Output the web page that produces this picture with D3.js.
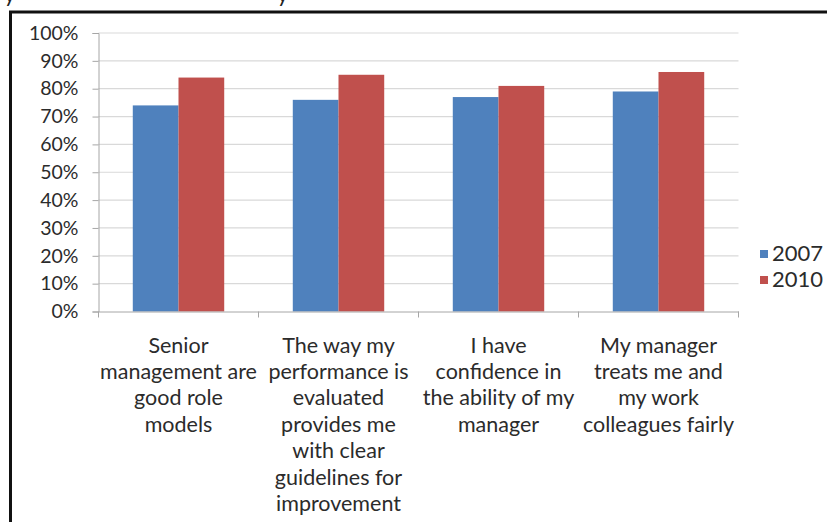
<!DOCTYPE html>
<html>
<head>
<meta charset="utf-8">
<script src="https://cdn.jsdelivr.net/npm/d3@7"></script>
<style>
  html, body { margin: 0; padding: 0; background: #fff; }
  svg { display: block; font-family: Lato, "Open Sans", sans-serif; }
</style>
</head>
<body>
<div id="chart"></div>
<script>
// ——— DATA —————————————————————————————————————————————————————————
const categories = ["senior", "evaluated", "confidence", "treats"];
const categoryLines = [
    ["Senior", "management are", "good role", "models"],
    ["The way my", "performance is", "evaluated", "provides me", "with clear", "guidelines for", "improvement"],
    ["I have", "confidence in", "the ability of my", "manager"],
    ["My manager", "treats me and", "my work", "colleagues fairly"]
];
const seriesNames = ["2007", "2010"];
const values2007 = [74, 76, 77, 79];
const values2010 = [84, 85, 81, 86];
const yTicks = [0, 10, 20, 30, 40, 50, 60, 70, 80, 90, 100];
const colors = ["#4f81bd", "#c0504d"];

const width = 827;
const height = 522;
const plot = { left: 98.5, right: 738.5, top: 33, bottom: 311.5 };

const svg = d3.select("#chart").append("svg")
    .attr("width", width)
    .attr("height", height);

// cropped line of text above the frame (only descenders show)
svg.selectAll("text.cut")
    .data([4, 277])
    .enter().append("text")
    .attr("class", "cut")
    .attr("x", (d) => d)
    .attr("y", 2)
    .style("font-size", "22px")
    .attr("fill", "#222")
    .text("y");

// frame
svg.append("rect")
    .attr("x", 10.5)
    .attr("y", 12)
    .attr("width", width + 20)
    .attr("height", height + 20)
    .attr("fill", "none")
    .attr("stroke", "#111")
    .attr("stroke-width", 3);

// ——— SCALES ————————————————————————————————————————————————————————
const x0 = d3.scaleBand()
    .domain(categories)
    .range([plot.left, plot.right])
    .padding(0);

const x1 = d3.scaleBand()
    .domain(seriesNames)
    .range([0, x0.bandwidth()])
    .paddingInner(0)
    .paddingOuter(0.75);

const y = d3.scaleLinear()
    .domain([0, 100])
    .range([plot.bottom, plot.top]);

// ——— GRID + AXES ———————————————————————————————————————————————————
svg.append("g")
    .selectAll("line")
    .data(yTicks.filter((d) => d > 0))
    .enter().append("line")
    .attr("x1", plot.left)
    .attr("x2", plot.right)
    .attr("y1", (d) => y(d))
    .attr("y2", (d) => y(d))
    .attr("stroke", "#d9d9d9")
    .attr("stroke-width", 1.2);

const yaxis = d3.axisLeft(y)
    .tickValues(yTicks)
    .tickSize(6)
    .tickPadding(14)
    .tickFormat((d) => d + "%");

const gy = svg.append("g")
    .attr("transform", `translate(${plot.left},0)`)
    .call(yaxis);
gy.select(".domain").attr("stroke", "#a6a6a6");
gy.selectAll(".tick line").attr("stroke", "#a6a6a6");
gy.selectAll(".tick text")
    .attr("fill", "#2b2b2b")
    .style("font-size", "19.5px")
    .style("font-family", "Lato, sans-serif");

// ——— BARS ——————————————————————————————————————————————————————————
const rows = categories.map((c, i) => ({ key: c, values: [values2007[i], values2010[i]] }));

const groups = svg.selectAll("g.cat")
    .data(rows)
    .enter().append("g")
    .attr("class", "cat")
    .attr("transform", (d) => `translate(${x0(d.key)},0)`);

groups.selectAll("rect")
    .data((d) => d.values.map((v, j) => ({ name: seriesNames[j], value: v, idx: j })))
    .enter().append("rect")
    .attr("x", (d) => x1(d.name))
    .attr("width", x1.bandwidth())
    .attr("y", (d) => y(d.value))
    .attr("height", (d) => y(0) - y(d.value))
    .attr("fill", (d) => colors[d.idx]);

// x axis line + ticks at category boundaries
const xaxis = d3.axisBottom(x0).tickSize(0).tickFormat("");
const gx = svg.append("g")
    .attr("transform", `translate(0,${plot.bottom})`)
    .call(xaxis);
gx.select(".domain").attr("stroke", "#a6a6a6");

svg.append("g")
    .selectAll("line")
    .data(categories.concat(["end"]))
    .enter().append("line")
    .attr("x1", (d, i) => i < categories.length ? x0(d) : plot.right)
    .attr("x2", (d, i) => i < categories.length ? x0(d) : plot.right)
    .attr("y1", plot.bottom)
    .attr("y2", plot.bottom + 6)
    .attr("stroke", "#a6a6a6");

// category labels
const labels = svg.append("g")
    .selectAll("text")
    .data(categories)
    .enter().append("text")
    .attr("x", (d) => x0(d) + x0.bandwidth() / 2)
    .attr("y", 352.5)
    .attr("text-anchor", "middle")
    .attr("fill", "#2b2b2b")
    .style("font-size", "21.5px");

labels.selectAll("tspan")
    .data((d, i) => categoryLines[i])
    .enter().append("tspan")
    .attr("x", function () { return d3.select(this.parentNode).attr("x"); })
    .attr("dy", (d, i) => i === 0 ? 0 : 26.4)
    .text((d) => d);

// ——— LEGEND ————————————————————————————————————————————————————————
const legend = svg.append("g")
    .selectAll("g")
    .data(seriesNames)
    .enter().append("g")
    .attr("transform", (d, i) => `translate(760,${254 + i * 26})`);

legend.append("rect")
    .attr("x", 0)
    .attr("y", -4)
    .attr("width", 8)
    .attr("height", 8)
    .attr("fill", (d, i) => colors[i]);

legend.append("text")
    .attr("x", 12)
    .attr("y", 7)
    .attr("fill", "#2b2b2b")
    .style("font-size", "22px")
    .text((d) => d);
</script>
</body>
</html>
